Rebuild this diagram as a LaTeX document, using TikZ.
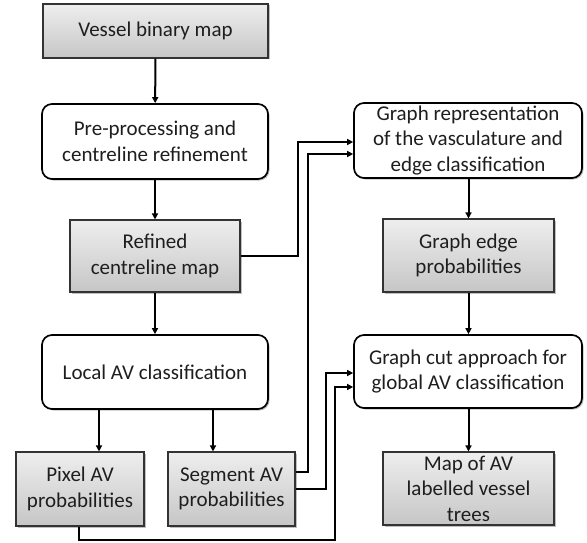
\documentclass[tikz,border=0pt]{standalone}
\usepackage{fontspec}
\setmainfont{Carlito}
\usetikzlibrary{arrows.meta,shadows}
\definecolor{topg}{RGB}{238,238,238}
\definecolor{botg}{RGB}{198,198,198}
\definecolor{txt}{RGB}{30,30,30}
\begin{document}
\begin{tikzpicture}[x=1pt,y=-1pt,
  base/.style={inner sep=0pt,align=center,text=txt,
    font=\fontsize{21}{25.5}\selectfont,
    drop shadow={shadow xshift=1.5pt,shadow yshift=-1.5pt,opacity=0.25,fill=black}},
  databox/.style={base,draw=black!80,line width=1.1pt,top color=topg,bottom color=botg},
  procbox/.style={base,draw=black,line width=1.7pt,fill=white,rounded corners=10pt},
  arr/.style={line width=2pt,-{Triangle[length=6pt,width=6pt]}}]
\useasboundingbox (0,0) rectangle (587,543);
\node[databox,minimum width=225pt,minimum height=54pt] (vbm) at (155.5,31) {Vessel binary map};
\node[procbox,minimum width=226pt,minimum height=75pt] (pre) at (155,141.5) {Pre-processing and\\centreline refinement};
\node[databox,minimum width=170pt,minimum height=72pt] (ref) at (155,256) {Refined\\centreline map};
\node[procbox,minimum width=226pt,minimum height=74pt] (loc) at (155,372) {Local AV classification};
\node[databox,minimum width=128pt,minimum height=74pt] (pix) at (80,489) {Pixel AV\\probabilities};
\node[databox,minimum width=127pt,minimum height=74pt] (seg) at (231.5,489) {Segment AV\\probabilities};
\node[procbox,minimum width=228pt,minimum height=75pt] (gr) at (468,140.5) {Graph representation\\of the vasculature and\\edge classification};
\node[databox,minimum width=171pt,minimum height=73pt] (gep) at (468.5,255.5) {Graph edge\\probabilities};
\node[procbox,minimum width=228pt,minimum height=73pt] (gc) at (468,371.5) {Graph cut approach for\\global AV classification};
\node[databox,minimum width=171pt,minimum height=73pt] (map) at (468.5,488.5) {Map of AV\\labelled vessel\\trees};
\draw[arr] (vbm) -- (pre);
\draw[arr] (pre) -- (ref);
\draw[arr] (ref) -- (loc);
\coordinate (pa) at ([xshift=19pt]pix.north);
\coordinate (sa) at ([xshift=-18.5pt]seg.north);
\draw[arr] (loc.south -| pa) -- (pa);
\draw[arr] (loc.south -| sa) -- (sa);
\draw[arr] ([xshift=0.5pt]gr.south) -- ([xshift=0pt]gep.north);
\draw[arr] (gep) -- ([xshift=0.5pt]gc.north);
\draw[arr] ([xshift=0.5pt]gc.south) -- (map);
\draw[arr] (ref.east) -| (298,200) |- ([yshift=-1.5pt]gr.west);
\draw[arr] ([yshift=17pt]seg.east) -| (308,300) |- ([yshift=-13.5pt]gr.west);
\draw[arr] (seg.east) -| (326,430) |- ([yshift=-1.5pt]gc.west);
\draw[arr] ([xshift=-1pt]pix.south) |- (335,540) |- ([yshift=-15.5pt]gc.west);
\end{tikzpicture}
\end{document}
